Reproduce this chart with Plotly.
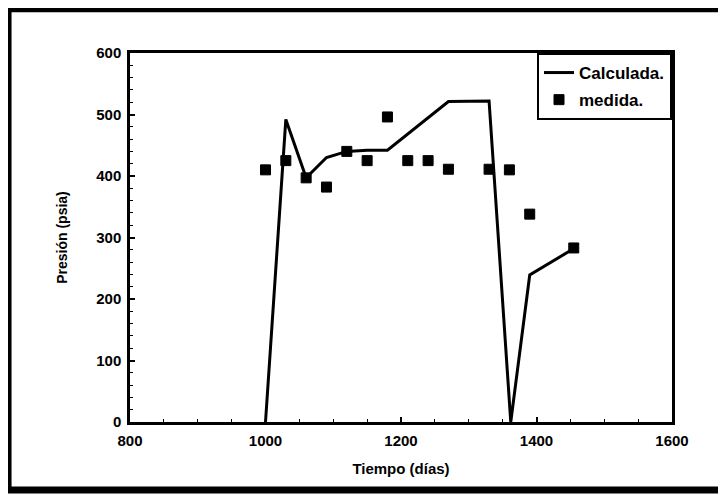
import plotly.graph_objects as go

# Calculated pressure curve
t_calc = [1000, 1030, 1060, 1090, 1120, 1150, 1180, 1270, 1330, 1362, 1390, 1455]
p_calc = [0, 492, 397, 430, 440, 442, 442, 521, 522, 0, 239, 282]

# Measured pressure points
t_meas = [1000, 1030, 1060, 1090, 1120, 1150, 1180, 1210, 1240, 1270, 1330, 1360, 1390, 1455]
p_meas = [410, 425, 397, 382, 440, 425, 496, 425, 425, 411, 411, 410, 338, 283]

x_ticks = [800, 1000, 1200, 1400, 1600]
y_ticks = [0, 100, 200, 300, 400, 500, 600]

FONT = "Liberation Sans"

fig = go.Figure()
fig.add_trace(go.Scatter(
    x=t_calc, y=p_calc, mode="lines", name="Calculada.",
    line=dict(color="black", width=3), legendgroup="a",
))
fig.add_trace(go.Scatter(
    x=t_meas, y=p_meas, mode="markers", name="medida.",
    marker=dict(symbol="square", size=10, color="black",
                line=dict(color="black", width=1)),
    legendgroup="b",
))

axis_common = dict(
    showgrid=False, zeroline=False, showline=True, linecolor="black",
    linewidth=2.5, mirror=True, ticks="inside", ticklen=5, tickwidth=1.5,
    tickcolor="black", ticklabelstandoff=3,
    tickfont=dict(family=FONT, size=15, color="black", weight="bold"),
)

fig.update_layout(
    width=718, height=487,
    margin=dict(l=122, r=54, t=45, b=73),
    paper_bgcolor="white", plot_bgcolor="white",
    showlegend=True,
    legend=dict(
        x=1, y=1, xanchor="right", yanchor="top",
        bgcolor="white", bordercolor="black", borderwidth=2,
        font=dict(family=FONT, size=17, color="black", weight="bold"),
        tracegroupgap=2, itemwidth=30,
    ),
    xaxis=dict(
        range=[800, 1600], tickvals=x_ticks,
        ticktext=[str(v) for v in x_ticks],
        minor=dict(dtick=50, ticks="inside", ticklen=3, tickcolor="black", tickwidth=1),
        title=dict(text="Tiempo (días)", standoff=16,
                   font=dict(family=FONT, size=15, color="black", weight="bold")),
        **axis_common,
    ),
    yaxis=dict(
        range=[0, 600], tickvals=y_ticks,
        ticktext=[str(v) for v in y_ticks],
        minor=dict(dtick=20, ticks="inside", ticklen=3, tickcolor="black", tickwidth=1),
        title=dict(text="Presión (psia)", standoff=26,
                   font=dict(family=FONT, size=14, color="black", weight="bold")),
        **axis_common,
    ),
    shapes=[
        dict(type="rect", xref="paper", yref="paper",
             x0=-0.225, x1=1.25, y0=-0.184, y1=1.12,
             line=dict(color="black", width=7), fillcolor="rgba(0,0,0,0)",
             layer="below"),
    ],
)

fig.write_html("out.html")
